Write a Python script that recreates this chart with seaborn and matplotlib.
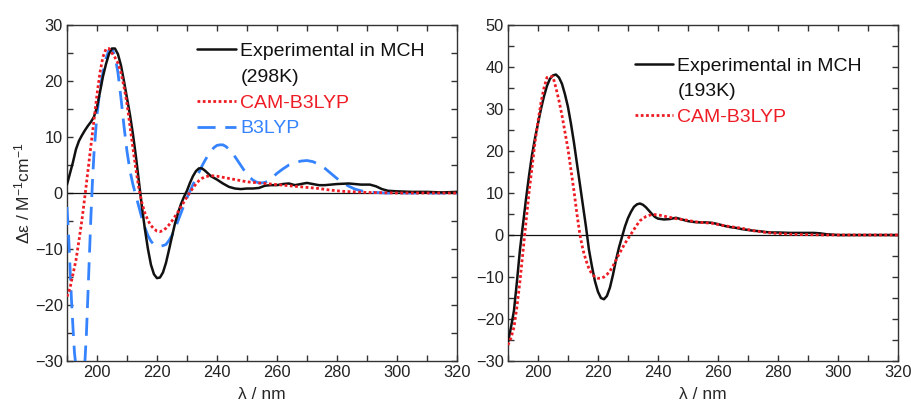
import numpy as np
import matplotlib
matplotlib.use("Agg")
import matplotlib.pyplot as plt
from matplotlib.lines import Line2D
from matplotlib.ticker import MultipleLocator
import seaborn as sns

# ---- left panel (298 K) ----
exp298_x = [190, 191, 192, 193, 194, 195, 196, 197, 198, 199, 200, 201, 202, 203, 204, 205,
            206, 207, 208, 209, 210, 211, 212, 213, 214, 215, 216, 217, 218, 219, 220, 221,
            222, 223, 224, 225, 226, 227, 228, 229, 230, 231, 232, 233, 234, 235, 236, 237,
            238, 239, 240, 242, 244, 246, 248, 250, 252, 254, 256, 258, 260, 262, 264, 266,
            268, 270, 272, 274, 276, 278, 280, 284, 288, 291, 293, 295, 297, 300, 305, 310,
            315, 320]
exp298_y = [1.5, 3.5, 5.5, 7.8, 9.3, 10.3, 11.2, 12.0, 12.7, 13.6, 15.3, 18.0, 20.8, 23.0,
            24.8, 25.8, 25.8, 24.8, 22.8, 20.0, 17.0, 14.0, 10.5, 6.5, 2.0, -2.5, -6.5, -10.0,
            -12.8, -14.5, -15.2, -15.1, -14.2, -12.5, -10.2, -7.8, -5.5, -3.6, -2.0, -0.7, 0.4,
            1.8, 3.0, 3.9, 4.4, 4.4, 4.0, 3.5, 3.0, 2.7, 2.4, 1.7, 1.1, 0.8, 0.7, 0.8, 0.8, 0.9,
            1.3, 1.4, 1.4, 1.6, 1.7, 1.4, 1.6, 1.8, 1.6, 1.4, 1.4, 1.5, 1.6, 1.7, 1.5, 1.5, 1.2,
            0.7, 0.4, 0.3, 0.2, 0.2, 0.1, 0.2]

cam298_x = [190, 191, 192, 193, 194, 195, 196, 197, 198, 199, 200, 201, 202, 203, 204, 205,
            206, 207, 208, 209, 210, 211, 212, 213, 214, 215, 216, 217, 218, 219, 220, 221,
            222, 223, 224, 225, 226, 227, 228, 229, 230, 231, 232, 233, 234, 235, 236, 238,
            240, 242, 244, 246, 248, 250, 254, 258, 262, 266, 270, 274, 278, 282, 286, 290,
            295, 300, 310, 320]
cam298_y = [-18.5, -17.0, -14.5, -12.0, -8.5, -4.8, -0.5, 4.0, 8.5, 13.0, 17.5, 21.5, 24.3,
            25.7, 25.8, 25.0, 24.2, 23.2, 21.5, 19.0, 16.0, 12.0, 8.0, 4.2, 0.8, -1.8, -3.6,
            -4.9, -5.8, -6.4, -6.8, -6.9, -6.7, -6.3, -5.7, -5.0, -4.2, -3.4, -2.5, -1.6, -0.7,
            0.1, 0.9, 1.6, 2.2, 2.6, 2.9, 3.1, 3.0, 2.8, 2.6, 2.4, 2.2, 2.0, 1.8, 1.6, 1.4, 1.2,
            1.0, 0.8, 0.5, 0.3, 0.2, 0.1, 0.05, 0.0, 0.0, 0.0]

b3_x = [190, 190.5, 191, 191.5, 192, 192.5, 193, 194, 195, 196, 196.5, 197, 197.5, 198, 198.5,
        199, 200, 201, 202, 203, 204, 205, 206, 207, 208, 209, 210, 211, 212, 213, 214, 215,
        216, 217, 218, 219, 220, 221, 222, 223, 224, 225, 226, 227, 228, 229, 230, 231, 232,
        233, 234, 235, 236, 237, 238, 239, 240, 241, 242, 243, 244, 245, 246, 247, 248, 249,
        250, 251, 252, 253, 254, 255, 256, 257, 258, 259, 260, 262, 264, 266, 268, 270, 272,
        274, 276, 278, 280, 282, 284, 286, 288, 290, 293, 296, 320]
b3_y = [-2.5, -7, -13, -19, -24, -28.5, -31, -36, -36, -30, -25, -18, -11, -4, 2, 7, 14,
        18.5, 21.5, 24, 25.5, 25.7, 24.5, 21.5, 17.0, 12.0, 7.5, 4.0, 1.5, -0.5, -2.5, -4.5,
        -6.2, -7.6, -8.6, -9.2, -9.5, -9.5, -9.4, -9.2, -8.5, -7.6, -6.4, -5.0, -3.6, -2.2,
        -0.9, 0.3, 1.5, 2.6, 3.7, 4.8, 5.8, 6.7, 7.5, 8.1, 8.5, 8.6, 8.6, 8.3, 7.8, 7.2, 6.5,
        5.7, 4.9, 4.1, 3.4, 2.8, 2.3, 2.0, 1.8, 1.8, 1.9, 2.1, 2.5, 3.0, 3.5, 4.3, 5.0, 5.4,
        5.7, 5.8, 5.6, 5.1, 4.4, 3.5, 2.6, 1.8, 1.2, 0.7, 0.4, 0.2, 0.1, 0.0, 0.0]

# ---- right panel (193 K) ----
exp193_x = [190, 191, 192, 193, 194, 195, 196, 197, 198, 199, 200, 201, 202, 203, 204, 205,
            206, 207, 208, 209, 210, 211, 212, 213, 214, 215, 216, 217, 218, 219, 220, 221,
            222, 223, 224, 225, 226, 227, 228, 229, 230, 231, 232, 233, 234, 235, 236, 237,
            238, 239, 240, 242, 244, 246, 248, 250, 252, 254, 256, 258, 260, 262, 264, 266,
            268, 270, 272, 274, 276, 278, 280, 284, 288, 292, 294, 296, 298, 300, 320]
exp193_y = [-25.5, -22, -18, -11, -3.5, 2.5, 8.5, 14, 19, 23, 26.5, 30, 33, 35.5, 37.2, 38.0,
            38.2, 37.5, 36.0, 33.5, 30.5, 26.5, 22, 17, 12, 7, 2, -3.5, -7.5, -11, -13.5, -15,
            -15.3, -14.5, -12.5, -9.5, -6, -3, -0.5, 2, 4, 5.5, 6.7, 7.3, 7.5, 7.2, 6.6, 5.8,
            5.0, 4.3, 3.9, 3.7, 3.8, 4.1, 3.7, 3.3, 3.1, 3.0, 3.0, 2.9, 2.6, 2.2, 1.9, 1.7,
            1.4, 1.2, 1.0, 0.9, 0.7, 0.6, 0.6, 0.5, 0.5, 0.5, 0.4, 0.2, 0.1, 0.0, 0.0]

cam193_x = [190, 191, 192, 193, 194, 195, 196, 197, 198, 199, 200, 201, 202, 203, 204, 205,
            206, 207, 208, 209, 210, 211, 212, 213, 214, 215, 216, 217, 218, 219, 220, 221,
            222, 223, 224, 225, 226, 227, 228, 229, 230, 231, 232, 233, 234, 236, 238, 240,
            242, 244, 246, 248, 250, 252, 254, 256, 258, 260, 264, 268, 272, 276, 280, 284,
            288, 292, 296, 320]
cam193_y = [-26.2, -24.5, -22, -17, -11, -4, 3, 10, 16, 22, 27, 31.5, 35, 37.5, 37.7, 37.7,
            35, 32, 28.5, 24.5, 20.5, 15.5, 10.5, 5, 0, -3.5, -6, -8, -9.3, -10, -10.3, -10.3,
            -10, -9.4, -8.6, -7.4, -6, -4.6, -3.3, -2, -0.9, 0.2, 1.3, 2.4, 3.4, 4.4, 4.9, 4.8,
            4.5, 4.2, 3.9, 3.7, 3.5, 3.2, 3.0, 2.9, 2.8, 2.5, 2.0, 1.6, 1.0, 0.6, 0.35, 0.2,
            0.1, 0.05, 0.0, 0.0]

BLACK = "#111111"
RED = "#ee1c24"
BLUE = "#3583ff"

sns.set_theme(style="ticks")
plt.rcParams.update({
    "font.family": ["Liberation Sans", "DejaVu Sans"],
    "font.size": 11.5,
    "mathtext.default": "regular",
    "axes.edgecolor": "#333333",
    "axes.linewidth": 1.0,
    "xtick.color": "#333333",
    "ytick.color": "#333333",
    "xtick.labelcolor": "#222222",
    "ytick.labelcolor": "#222222",
    "xtick.labelsize": 11.8,
    "ytick.labelsize": 11.8,
    "axes.labelsize": 12.5,
})

fig = plt.figure(figsize=(9.11, 4.07), dpi=100)
ax1 = fig.add_axes([0.0735, 0.113, 0.428, 0.8256])
ax2 = fig.add_axes([0.5576, 0.113, 0.428, 0.8256])

dotted = (0, (1, 0.9))
dashed = (0, (6.5, 3.5))

sns.lineplot(x=exp298_x, y=exp298_y, ax=ax1, color=BLACK, lw=1.8, zorder=4)
sns.lineplot(x=cam298_x, y=cam298_y, ax=ax1, color=RED, lw=2.0, linestyle=dotted, zorder=5)
sns.lineplot(x=b3_x, y=b3_y, ax=ax1, color=BLUE, lw=2.0, linestyle=dashed, zorder=3)

sns.lineplot(x=exp193_x, y=exp193_y, ax=ax2, color=BLACK, lw=1.8, zorder=4)
sns.lineplot(x=cam193_x, y=cam193_y, ax=ax2, color=RED, lw=2.0, linestyle=dotted, zorder=5)

for ax, ylim in [(ax1, (-30, 30)), (ax2, (-30, 50))]:
    ax.axhline(0, color=BLACK, lw=0.9, zorder=2)
    ax.set_xlim(190, 320)
    ax.set_ylim(*ylim)
    ax.xaxis.set_major_locator(MultipleLocator(20))
    ax.xaxis.set_minor_locator(MultipleLocator(10))
    ax.yaxis.set_major_locator(MultipleLocator(10))
    ax.yaxis.set_minor_locator(MultipleLocator(5))
    ax.tick_params(which="both", direction="in", top=True, right=True,
                   length=4.5, width=1.0, pad=3)
    ax.set_xlabel("λ / nm", labelpad=5)
    ax.set_ylabel("")

ax1.set_ylabel("Δε / M$^{-1}$cm$^{-1}$", labelpad=2)

blank = Line2D([], [], color="none")
h_exp = Line2D([], [], color=BLACK, lw=1.8)
h_cam = Line2D([], [], color=RED, lw=2.0, linestyle=dotted)
h_b3 = Line2D([], [], color=BLUE, lw=2.0, linestyle=dashed)

leg_kw = dict(frameon=False, handlelength=2.0, handletextpad=0.2, labelspacing=0.42,
              borderpad=0, borderaxespad=0, loc="upper right", fontsize=14)

leg1 = ax1.legend([h_exp, blank, h_cam, h_b3],
                  ["Experimental in MCH", "(298K)", "CAM-B3LYP", "B3LYP"],
                  bbox_to_anchor=(0.918, 0.948), **leg_kw)
for txt, c in zip(leg1.get_texts(), [BLACK, BLACK, RED, BLUE]):
    txt.set_color(c)

leg2 = ax2.legend([h_exp, blank, h_cam],
                  ["Experimental in MCH", "(193K)", "CAM-B3LYP"],
                  bbox_to_anchor=(0.908, 0.905), **leg_kw)
for txt, c in zip(leg2.get_texts(), [BLACK, BLACK, RED]):
    txt.set_color(c)

fig.savefig("out.png", dpi=100)
